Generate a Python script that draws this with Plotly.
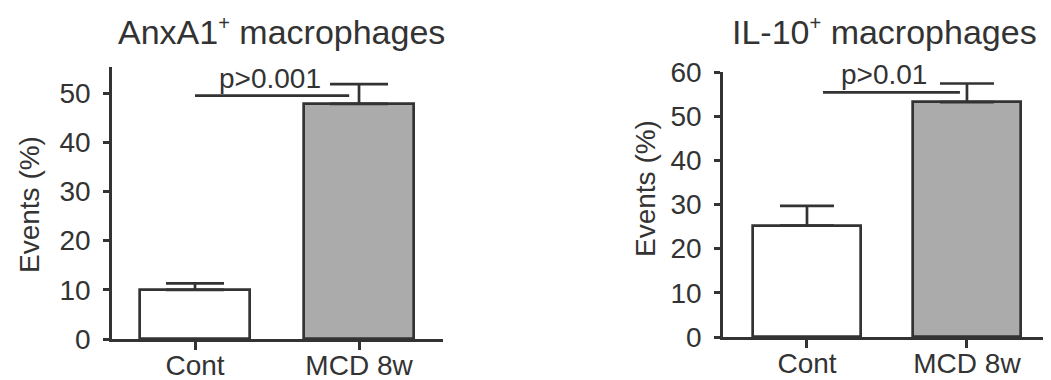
import plotly.graph_objects as go

# ---- data ----
categories = ["Cont", "MCD 8w"]
anxa1_mean = [10.0, 47.8]
anxa1_err = [1.3, 4.0]
il10_mean = [25.2, 53.2]
il10_err = [4.5, 4.2]
bar_colors = ["#ffffff", "#ababab"]

SUP = '<sup><span style="font-size:20px">+</span></sup>'
titles = ["AnxA1" + SUP + " macrophages", "IL-10" + SUP + " macrophages"]
y_title = "Events (%)"
anxa1_ticks = [0, 10, 20, 30, 40, 50]
il10_ticks = [0, 10, 20, 30, 40, 50, 60]

# significance brackets: (x start, x end, y level, label, label x)
anxa1_sig = [0.0, 0.94, 49.5, "p>0.001", 0.457]
il10_sig = [0.10, 0.956, 55.4, "p>0.01", 0.48]

# the page body has an 8px default margin, so the figure is drawn offset
OFF = 8
W, H = 1051 - OFF, 380 - OFF
FONT = "Liberation Sans, Arial, sans-serif"
INK = "#333333"


def px_x(p):
    return (p - OFF) / W


def px_y(p):
    return 1 - (p - OFF) / H


fig = go.Figure()
xpos = list(range(len(categories)))

panels = [
    dict(xa="x", ya="y", mean=anxa1_mean, err=anxa1_err, sig=anxa1_sig,
         cap=29, width=0.67),
    dict(xa="x2", ya="y2", mean=il10_mean, err=il10_err, sig=il10_sig,
         cap=27, width=0.68),
]

for p in panels:
    fig.add_trace(go.Bar(
        x=xpos, y=p["mean"], width=p["width"],
        marker=dict(color=bar_colors, line=dict(color=INK, width=2.7)),
        error_y=dict(type="data", array=p["err"], arrayminus=[0] * len(p["err"]),
                     symmetric=False, color=INK, thickness=2.7, width=p["cap"]),
        xaxis=p["xa"], yaxis=p["ya"], showlegend=False, hoverinfo="skip",
    ))
    s = p["sig"]
    fig.add_trace(go.Scatter(
        x=[s[0], s[1]], y=[s[2], s[2]], mode="lines",
        line=dict(color=INK, width=2.7),
        xaxis=p["xa"], yaxis=p["ya"], showlegend=False, hoverinfo="skip",
    ))
    fig.add_annotation(
        x=s[4], y=s[2], xref=p["xa"], yref=p["ya"], text=s[3],
        showarrow=False, xanchor="center", yanchor="bottom",
        font=dict(family=FONT, size=28, color=INK),
    )

axis_common = dict(
    showline=True, linecolor=INK, linewidth=2.7, ticks="outside",
    tickcolor=INK, tickwidth=2.7, showgrid=False, zeroline=False,
    automargin=False,
    tickfont=dict(family=FONT, size=28, color=INK),
)

fig.update_layout(
    template="none",
    width=W, height=H,
    margin=dict(l=0, r=0, t=0, b=0, autoexpand=False),
    paper_bgcolor="white", plot_bgcolor="white",
    xaxis=dict(domain=[px_x(112), px_x(443)], range=[-0.506, 1.512],
               tickvals=xpos, ticktext=categories, ticklen=8,
               ticklabelstandoff=-8, anchor="y", **axis_common),
    yaxis=dict(domain=[px_y(339), px_y(67)], range=[0, 55.3],
               tickvals=anxa1_ticks, ticklen=6, ticklabelstandoff=7,
               anchor="x", **axis_common),
    xaxis2=dict(domain=[px_x(723), px_x(1050)], range=[-0.525, 1.519],
                tickvals=xpos, ticktext=categories, ticklen=8,
                ticklabelstandoff=-8, anchor="y2", **axis_common),
    yaxis2=dict(domain=[px_y(337), px_y(72)], range=[0, 60],
                tickvals=il10_ticks, ticklen=6, ticklabelstandoff=7,
                anchor="x2", **axis_common),
    bargap=0,
)

# titles
for cx, t in zip([281, 884], titles):
    fig.add_annotation(
        x=px_x(cx), y=px_y(53), xref="paper", yref="paper", text=t,
        showarrow=False, xanchor="center", yanchor="bottom",
        font=dict(family=FONT, size=34, color=INK),
    )

# y-axis titles
for cx, cy in [(29, 205), (645, 189)]:
    fig.add_annotation(
        x=px_x(cx), y=px_y(cy), xref="paper", yref="paper", text=y_title,
        showarrow=False, textangle=-90, xanchor="center", yanchor="middle",
        font=dict(family=FONT, size=28, color=INK),
    )

fig.write_html("out.html")
